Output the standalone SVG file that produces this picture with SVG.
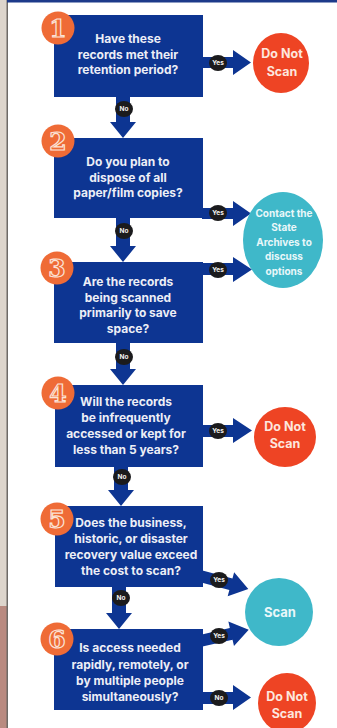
<svg xmlns="http://www.w3.org/2000/svg" width="337" height="728" viewBox="0 0 337 728">
  <style>
    .box { fill: #0d3592; }
    .arrow { fill: #0d3592; }
    .q { font-family: Inter, "Liberation Sans", sans-serif; font-weight: 700; font-size: 12px; fill: #eceef6; text-anchor: middle; }
    .badge { fill: #1b1b1d; }
    .bt { font-family: Inter, "Liberation Sans", sans-serif; font-weight: 700; font-size: 6.5px; fill: #f2f2f2; text-anchor: middle; }
    .num-bg { fill: #ef6b36; }
    .num { font-family: "DejaVu Serif", serif; font-weight: 700; font-size: 25px; fill: #ef6b36; stroke: #fbe3d6; stroke-width: 1.2px; text-anchor: middle; }
    .stop { fill: #ee4424; }
    .stop-t { font-family: Inter, "Liberation Sans", sans-serif; font-weight: 700; font-size: 12.5px; fill: #fde6de; text-anchor: middle; }
    .go { fill: #3fb8c9; }
    .go-t { font-family: Inter, "Liberation Sans", sans-serif; font-weight: 700; font-size: 10px; fill: #e9f7f9; text-anchor: middle; }
  </style>

  <!-- page frame -->
  <rect x="0" y="0" width="337" height="728" fill="#ffffff"/>
  <rect x="0" y="0" width="7" height="728" fill="#ddd5cc"/>
  <rect x="0" y="606" width="7" height="122" fill="#b98a80"/>
  <rect x="6.5" y="0" width="1.5" height="728" fill="#6e6a66"/>
  <rect x="7" y="0" width="330" height="2.5" fill="#1d3a8a"/>

  <!-- connectors -->
  <g id="connectors">
    <!-- downward "No" arrows -->
    <path class="arrow" d="M116,96 V122 H110 L123,138 L136,122 H130 V96 Z"/>
    <path class="arrow" d="M116,217 V246 H110 L123,262 L136,246 H130 V217 Z"/>
    <path class="arrow" d="M116,342 V369 H110 L123,385 L136,369 H130 V342 Z"/>
    <path class="arrow" d="M114,466 V490 H108 L121,506 L134,490 H128 V466 Z"/>
    <path class="arrow" d="M112,586 V613 H106 L119,629 L132,613 H126 V586 Z"/>

    <!-- sideways arrows -->
    <path class="arrow" d="M202,57 H233 V50 L251,62.5 L233,75 V68 H202 Z"/>
    <path class="arrow" d="M202,208 H233 V201 L251,213.5 L233,226 V219 H202 Z"/>
    <path class="arrow" d="M202,263 H233 V257 L252,269.5 L233,282 V275 H202 Z"/>
    <path class="arrow" d="M202,425 H233 V418 L252,430.5 L233,443 V437 H202 Z"/>
    <path class="arrow" transform="translate(200,576) rotate(15)" d="M0,-6 H32 V-12.5 L50,0 L32,12.5 V6 H0 Z"/>
    <path class="arrow" transform="translate(200,641) rotate(-13)" d="M0,-6 H32 V-12.5 L50,0 L32,12.5 V6 H0 Z"/>
    <path class="arrow" d="M202,692 H233 V685 L251,697.5 L233,710 V704 H202 Z"/>

    <!-- answer badges -->
    <ellipse class="badge" cx="124" cy="109" rx="9" ry="8"/><text class="bt" x="124" y="111.3">No</text>
    <ellipse class="badge" cx="124" cy="231" rx="9" ry="8"/><text class="bt" x="124" y="233.3">No</text>
    <ellipse class="badge" cx="124" cy="357" rx="9" ry="8"/><text class="bt" x="124" y="359.3">No</text>
    <ellipse class="badge" cx="122" cy="477" rx="9" ry="8"/><text class="bt" x="122" y="479.3">No</text>
    <ellipse class="badge" cx="121" cy="598" rx="9" ry="8"/><text class="bt" x="121" y="600.3">No</text>

    <ellipse class="badge" cx="218" cy="63" rx="9" ry="8"/><text class="bt" x="218" y="65.3">Yes</text>
    <ellipse class="badge" cx="218" cy="213" rx="9" ry="8"/><text class="bt" x="218" y="215.3">Yes</text>
    <ellipse class="badge" cx="218" cy="270" rx="9" ry="8"/><text class="bt" x="218" y="272.3">Yes</text>
    <ellipse class="badge" cx="218" cy="431" rx="9" ry="8"/><text class="bt" x="218" y="433.3">Yes</text>
    <ellipse class="badge" cx="219" cy="580" rx="9" ry="8"/><text class="bt" x="219" y="582.3">Yes</text>
    <ellipse class="badge" cx="219" cy="636" rx="9" ry="8"/><text class="bt" x="219" y="638.3">Yes</text>
    <ellipse class="badge" cx="219" cy="698" rx="9" ry="8"/><text class="bt" x="219" y="700.3">No</text>
  </g>

  <!-- question 1 -->
  <g id="q1">
    <rect class="box" x="54" y="15" width="149" height="82"/>
    <circle class="num-bg" cx="58" cy="28" r="16.5"/>
    <text class="num" x="58" y="37">1</text>
    <text class="q" x="128" y="43">Have these</text>
    <text class="q" x="128" y="58.5">records met their</text>
    <text class="q" x="128" y="74">retention period?</text>
  </g>

  <!-- question 2 -->
  <g id="q2">
    <rect class="box" x="54" y="138" width="149" height="80"/>
    <circle class="num-bg" cx="58" cy="141" r="16.5"/>
    <text class="num" x="58" y="150">2</text>
    <text class="q" x="128" y="166">Do you plan to</text>
    <text class="q" x="128" y="181.5">dispose of all</text>
    <text class="q" x="128" y="197">paper/film copies?</text>
  </g>

  <!-- question 3 -->
  <g id="q3">
    <rect class="box" x="54" y="262" width="149" height="81"/>
    <circle class="num-bg" cx="57" cy="268" r="16.5"/>
    <text class="num" x="57" y="277">3</text>
    <text class="q" x="128" y="286">Are the records</text>
    <text class="q" x="128" y="301.5">being scanned</text>
    <text class="q" x="128" y="317">primarily to save</text>
    <text class="q" x="128" y="332.5">space?</text>
  </g>

  <!-- question 4 -->
  <g id="q4">
    <rect class="box" x="55" y="385" width="148" height="82"/>
    <circle class="num-bg" cx="58" cy="393" r="16.5"/>
    <text class="num" x="58" y="402">4</text>
    <text class="q" x="126" y="406">Will the records</text>
    <text class="q" x="126" y="422">be infrequently</text>
    <text class="q" x="126" y="438">accessed or kept for</text>
    <text class="q" x="126" y="454">less than 5 years?</text>
  </g>

  <!-- question 5 -->
  <g id="q5">
    <rect class="box" x="55" y="506" width="148" height="81"/>
    <circle class="num-bg" cx="57" cy="519" r="16.5"/>
    <text class="num" x="57" y="528">5</text>
    <text class="q" x="131" y="527">Does the business,</text>
    <text class="q" x="131" y="543">historic, or disaster</text>
    <text class="q" x="131" y="559">recovery value exceed</text>
    <text class="q" x="131" y="575">the cost to scan?</text>
  </g>

  <!-- question 6 -->
  <g id="q6">
    <rect class="box" x="54" y="629" width="149" height="81"/>
    <circle class="num-bg" cx="57" cy="639" r="16.5"/>
    <text class="num" x="57" y="648">6</text>
    <text class="q" x="130" y="652">Is access needed</text>
    <text class="q" x="130" y="669">rapidly, remotely, or</text>
    <text class="q" x="130" y="685">by multiple people</text>
    <text class="q" x="130" y="701">simultaneously?</text>
  </g>

  <!-- outcomes -->
  <g id="stop1">
    <ellipse class="stop" cx="281" cy="63" rx="28" ry="30"/>
    <text class="stop-t" x="282" y="58">Do Not</text>
    <text class="stop-t" x="282" y="76">Scan</text>
  </g>
  <g id="archives">
    <ellipse class="go" cx="283" cy="240" rx="40" ry="48"/>
    <text class="go-t" x="284" y="217">Contact the</text>
    <text class="go-t" x="284" y="231">State</text>
    <text class="go-t" x="284" y="246">Archives to</text>
    <text class="go-t" x="284" y="260">discuss</text>
    <text class="go-t" x="284" y="275">options</text>
  </g>
  <g id="stop2">
    <ellipse class="stop" cx="285" cy="437" rx="31" ry="30"/>
    <text class="stop-t" x="285" y="431">Do Not</text>
    <text class="stop-t" x="285" y="448">Scan</text>
  </g>
  <g id="scan">
    <circle class="go" cx="279" cy="612" r="34"/>
    <text class="go-t" x="280" y="617" style="font-size:13px">Scan</text>
  </g>
  <g id="stop3">
    <ellipse class="stop" cx="287" cy="703" rx="29" ry="30"/>
    <text class="stop-t" x="287" y="701">Do Not</text>
    <text class="stop-t" x="287" y="718">Scan</text>
  </g>
</svg>
